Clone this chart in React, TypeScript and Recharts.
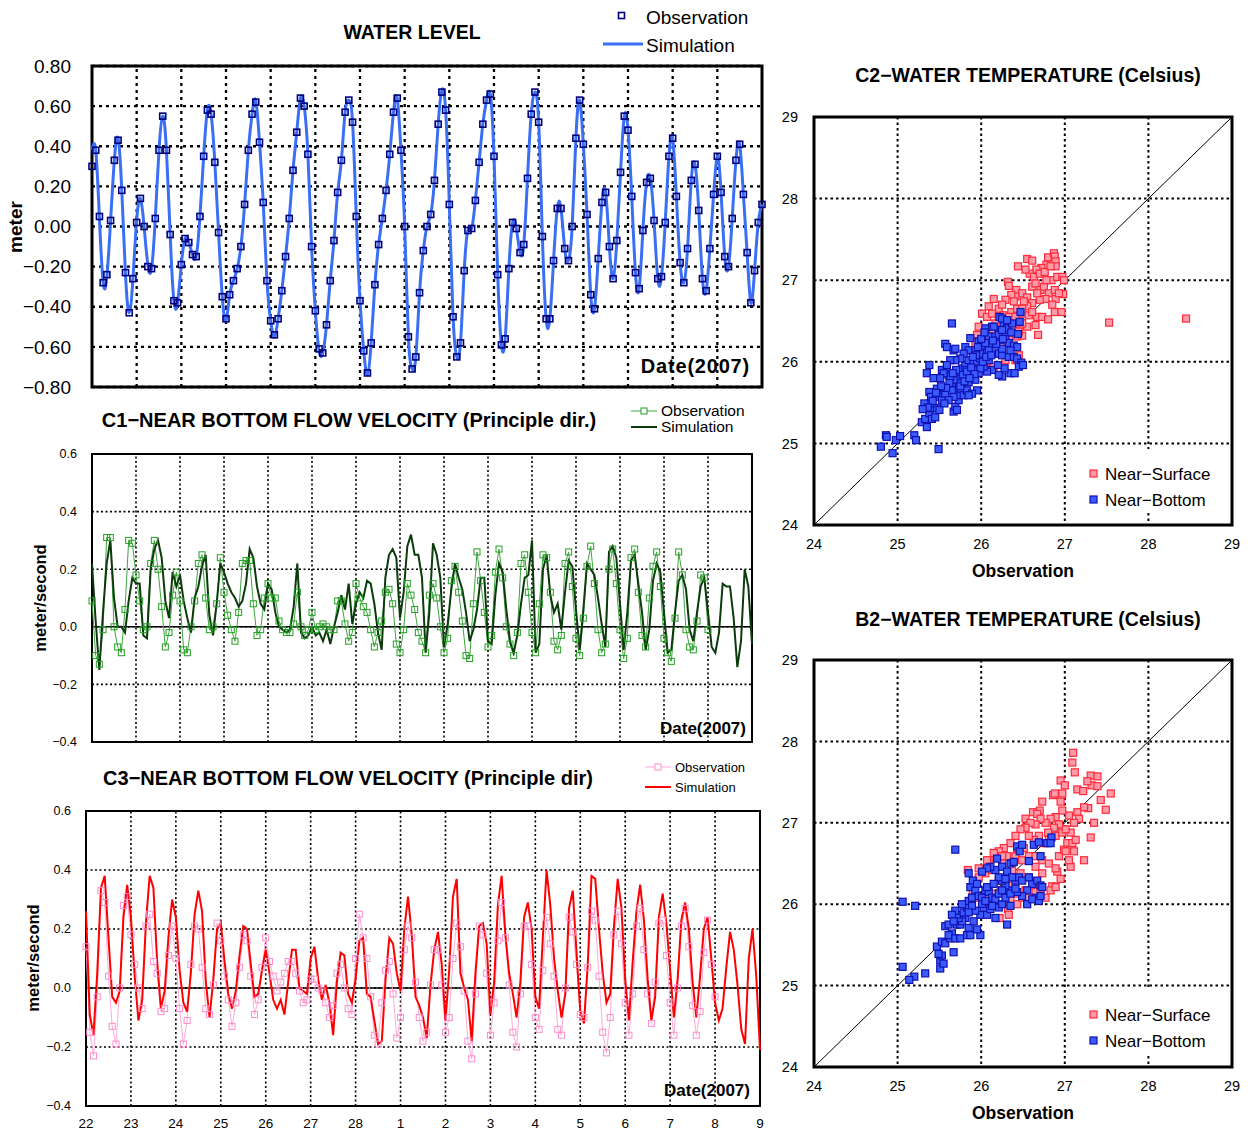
import React from 'react';
import {
  LineChart,
  Line,
  ScatterChart,
  Scatter,
  XAxis,
  YAxis,
  CartesianGrid,
  ReferenceLine,
  ReferenceArea,
} from 'recharts';

// ---- time axis (2-hour steps from 22 Feb 2007, 15 days) ----
const dayTicks = [0, 1, 2, 3, 4, 5, 6, 7, 8, 9, 10, 11, 12, 13, 14, 15];
const dayLabels = ['22', '23', '24', '25', '26', '27', '28', '1', '2', '3', '4', '5', '6', '7', '8', '9'];
const wlTicks = [-0.8, -0.6, -0.4, -0.2, 0, 0.2, 0.4, 0.6, 0.8];
const velTicks = [-0.4, -0.2, 0, 0.2, 0.4, 0.6];
const tempTicks = [24, 25, 26, 27, 28, 29];

// water level (m)
const wlSim = [
  0.38, 0.38, 0.04, -0.28, -0.25, 0.03, 0.33, 0.44, 0.18, -0.24, -0.43, -0.26,
  0.03, 0.14, 0.0, -0.19, -0.21, 0.04, 0.38, 0.55, 0.38, -0.04, -0.37, -0.38,
  -0.19, -0.06, -0.08, -0.14, -0.15, 0.05, 0.35, 0.58, 0.56, 0.32, -0.03, -0.35,
  -0.47, -0.34, -0.27, -0.21, -0.1, 0.11, 0.38, 0.56, 0.63, 0.42, 0.12, -0.27,
  -0.47, -0.55, -0.46, -0.32, -0.15, 0.04, 0.28, 0.47, 0.64, 0.6, 0.36, -0.1,
  -0.42, -0.62, -0.63, -0.49, -0.27, -0.07, 0.17, 0.33, 0.57, 0.63, 0.52, 0.05,
  -0.37, -0.62, -0.74, -0.58, -0.29, -0.09, 0.04, 0.18, 0.36, 0.57, 0.64, 0.38,
  0.0, -0.55, -0.71, -0.65, -0.33, -0.12, 0.0, 0.06, 0.23, 0.51, 0.68, 0.58,
  0.11, -0.45, -0.65, -0.58, -0.22, -0.02, -0.01, 0.13, 0.32, 0.51, 0.63, 0.66,
  0.35, -0.24, -0.59, -0.56, -0.21, 0.02, -0.01, -0.13, -0.09, 0.24, 0.56, 0.67,
  0.52, -0.05, -0.46, -0.46, -0.17, 0.09, 0.09, -0.11, -0.17, 0.0, 0.44, 0.63,
  0.41, 0.06, -0.34, -0.41, -0.16, 0.12, 0.17, -0.1, -0.26, -0.07, 0.27, 0.55,
  0.48, 0.15, -0.23, -0.31, -0.02, 0.22, 0.24, 0.03, -0.26, -0.25, 0.02, 0.35,
  0.44, 0.15, -0.18, -0.28, -0.11, 0.23, 0.31, 0.08, -0.26, -0.32, -0.11, 0.16,
  0.35, 0.17, -0.15, -0.2, 0.04, 0.33, 0.41, 0.16, -0.13, -0.38, -0.22, 0.02,
  0.11,
];
const wlObs = [
  0.3, 0.38, 0.05, -0.28, -0.24, 0.03, 0.33, 0.43, 0.18, -0.23, -0.43, -0.26,
  0.02, 0.14, 0.0, -0.2, -0.21, 0.04, 0.38, 0.55, 0.38, -0.04, -0.37, -0.38,
  -0.19, -0.06, -0.08, -0.14, -0.15, 0.05, 0.35, 0.58, 0.56, 0.32, -0.03, -0.35,
  -0.46, -0.34, -0.27, -0.21, -0.1, 0.11, 0.38, 0.56, 0.62, 0.42, 0.12, -0.27,
  -0.47, -0.54, -0.46, -0.32, -0.15, 0.04, 0.28, 0.47, 0.64, 0.6, 0.36, -0.1,
  -0.42, -0.61, -0.63, -0.49, -0.27, -0.07, 0.17, 0.33, 0.57, 0.63, 0.52, 0.05,
  -0.37, -0.62, -0.73, -0.58, -0.29, -0.09, 0.04, 0.18, 0.36, 0.57, 0.64, 0.38,
  0.0, -0.55, -0.71, -0.65, -0.33, -0.12, 0.0, 0.06, 0.23, 0.51, 0.67, 0.58,
  0.11, -0.45, -0.65, -0.58, -0.22, -0.02, -0.01, 0.13, 0.32, 0.51, 0.63, 0.66,
  0.35, -0.24, -0.59, -0.56, -0.21, 0.02, -0.01, -0.13, -0.09, 0.24, 0.56, 0.67,
  0.52, -0.05, -0.46, -0.46, -0.17, 0.09, 0.09, -0.11, -0.17, 0.0, 0.44, 0.63,
  0.41, 0.06, -0.34, -0.41, -0.16, 0.12, 0.17, -0.1, -0.26, -0.07, 0.27, 0.55,
  0.48, 0.15, -0.23, -0.31, -0.02, 0.22, 0.24, 0.03, -0.26, -0.25, 0.02, 0.35,
  0.44, 0.15, -0.18, -0.28, -0.11, 0.23, 0.31, 0.08, -0.26, -0.32, -0.11, 0.16,
  0.35, 0.17, -0.15, -0.2, 0.04, 0.33, 0.41, 0.16, -0.13, -0.38, -0.22, 0.02,
  0.11,
];

// C1 near bottom velocity (m/s)
const c1Sim = [
  0.22, 0.02, -0.15, 0.05, 0.22, 0.3, 0.1, 0.0, 0.0, -0.02, 0.09, 0.17,
  0.15, 0.15, -0.03, -0.04, 0.2, 0.27, 0.3, 0.24, 0.09, 0.03, 0.19, 0.14,
  0.18, 0.09, 0.03, -0.02, 0.1, 0.14, 0.21, 0.25, 0.04, -0.03, 0.08, 0.22,
  0.19, 0.15, 0.12, 0.1, 0.07, 0.09, 0.15, 0.27, 0.24, 0.14, 0.08, 0.06,
  0.15, 0.13, 0.05, 0.0, -0.01, -0.02, -0.01, 0.07, 0.22, -0.02, -0.04, -0.03,
  0.0, -0.03, -0.02, -0.05, -0.01, -0.06, 0.0, 0.05, 0.11, 0.06, 0.15, 0.01,
  0.08, 0.12, 0.1, 0.16, 0.15, 0.08, -0.02, -0.08, 0.17, 0.25, 0.27, 0.24,
  0.03, 0.12, 0.28, 0.32, 0.25, 0.25, 0.17, -0.09, 0.05, 0.29, 0.25, 0.17,
  -0.07, 0.01, 0.13, 0.22, 0.17, 0.13, 0.05, -0.05, -0.01, 0.06, 0.17, 0.17,
  -0.05, -0.06, 0.11, 0.22, 0.19, 0.06, -0.05, -0.09, -0.03, 0.08, 0.17, 0.18,
  0.3, -0.09, -0.06, 0.2, 0.25, 0.11, 0.05, 0.08, -0.01, 0.12, 0.23, 0.21,
  0.06, -0.08, 0.06, 0.22, 0.2, 0.18, 0.1, 0.01, -0.07, 0.26, 0.28, 0.24,
  0.08, -0.08, 0.05, 0.23, 0.25, 0.15, 0.05, -0.08, -0.01, 0.16, 0.22, 0.19,
  0.05, -0.09, -0.08, 0.05, 0.16, 0.18, 0.13, -0.01, -0.05, 0.05, 0.14, 0.17,
  0.05, -0.07, -0.09, -0.02, 0.15, 0.14, 0.14, 0.03, -0.14, -0.05, 0.2, 0.14,
  -0.06,
];
const c1Obs = [
  0.09, -0.1, -0.13, -0.01, 0.31, 0.31, 0.0, -0.07, -0.09, 0.06, 0.3, 0.29,
  0.18, 0.09, -0.01, 0.0, 0.22, 0.3, 0.2, 0.07, -0.07, -0.02, 0.11, 0.19,
  0.09, -0.08, -0.09, 0.0, 0.09, 0.22, 0.25, 0.1, -0.01, 0.0, 0.08, 0.24,
  0.12, 0.04, -0.01, -0.05, 0.05, 0.22, 0.23, 0.23, 0.08, -0.03, -0.01, 0.1,
  0.15, 0.1, 0.1, 0.02, -0.01, -0.02, -0.02, 0.01, 0.12, 0.0, -0.03, -0.01,
  0.05, -0.01, 0.0, 0.01, 0.0, -0.01, -0.01, 0.09, 0.09, 0.01, -0.05, -0.02,
  0.15, 0.1, 0.07, 0.05, -0.01, -0.07, -0.02, 0.02, 0.12, 0.13, 0.08, -0.06,
  -0.09, -0.01, 0.15, 0.11, 0.06, -0.02, -0.05, -0.09, 0.11, 0.15, 0.1, 0.0,
  -0.09, -0.04, 0.16, 0.21, 0.12, 0.02, -0.1, -0.11, 0.08, 0.26, 0.16, 0.05,
  -0.07, -0.03, 0.19, 0.27, 0.17, 0.0, -0.06, -0.1, -0.02, 0.22, 0.25, 0.12,
  -0.02, -0.09, 0.08, 0.25, 0.24, 0.12, -0.05, -0.08, -0.03, 0.22, 0.26, 0.14,
  -0.04, -0.1, 0.03, 0.21, 0.28, 0.15, -0.01, -0.09, -0.06, 0.2, 0.27, 0.15,
  -0.01, -0.11, -0.04, 0.24, 0.27, 0.12, -0.03, -0.07, 0.1, 0.21, 0.26, 0.14,
  -0.04, -0.09, -0.12, 0.03, 0.26, 0.18, -0.01, -0.07, -0.08, 0.02, 0.18, 0.17,
  -0.01,
];

// C3 near bottom velocity (m/s)
const c3Sim = [
  0.26, -0.09, -0.16, 0.05, 0.34, 0.38, 0.17, -0.03, -0.05, -0.01, 0.24, 0.35,
  0.24, 0.04, -0.11, -0.04, 0.22, 0.38, 0.34, 0.09, -0.07, -0.01, 0.17, 0.3,
  0.24, 0.06, -0.05, -0.08, 0.05, 0.25, 0.33, 0.26, 0.02, -0.1, 0.03, 0.2,
  0.22, 0.09, -0.02, -0.07, -0.01, 0.11, 0.21, 0.2, 0.08, -0.03, -0.02, 0.06,
  0.13, 0.05, -0.04, -0.07, -0.04, -0.09, 0.02, 0.13, 0.13, 0.0, -0.01, -0.02,
  0.1, 0.14, 0.03, -0.04, 0.01, -0.05, -0.16, 0.02, 0.12, 0.11, -0.02, -0.05,
  0.03, 0.16, 0.17, -0.02, -0.03, -0.11, -0.19, -0.18, 0.03, 0.17, 0.15, 0.05,
  -0.01, 0.2, 0.31, 0.18, -0.03, -0.06, -0.1, -0.17, 0.01, 0.13, 0.19, 0.08,
  -0.11, 0.06, 0.31, 0.37, 0.05, 0.0, -0.04, -0.18, 0.05, 0.21, 0.22, 0.15,
  -0.09, 0.02, 0.28, 0.38, 0.18, 0.05, -0.02, -0.1, 0.02, 0.24, 0.29, 0.2,
  -0.03, -0.07, 0.17, 0.4, 0.28, 0.1, -0.01, -0.1, -0.02, 0.27, 0.33, 0.12,
  -0.08, -0.12, 0.08, 0.38, 0.37, 0.2, 0.05, -0.05, -0.02, 0.21, 0.37, 0.27,
  0.03, -0.11, 0.09, 0.26, 0.35, 0.23, 0.03, -0.11, -0.03, 0.24, 0.32, 0.22,
  0.06, -0.1, 0.03, 0.23, 0.29, 0.2, 0.02, -0.1, 0.04, 0.2, 0.24, 0.1,
  -0.05, -0.11, -0.07, 0.07, 0.19, 0.13, 0.01, -0.14, -0.19, 0.1, 0.2, 0.04,
  -0.21,
];
const c3Obs = [
  0.14, -0.15, -0.23, -0.03, 0.33, 0.29, 0.04, -0.13, -0.19, 0.0, 0.28, 0.31,
  0.18, 0.08, 0.0, -0.07, 0.21, 0.25, 0.09, 0.05, -0.08, -0.07, 0.11, 0.21,
  0.1, -0.07, -0.19, -0.11, 0.08, 0.21, 0.2, 0.07, -0.07, -0.09, 0.01, 0.22,
  0.16, 0.04, -0.04, -0.13, -0.05, 0.07, 0.18, 0.16, 0.04, -0.09, -0.04, 0.07,
  0.17, 0.09, 0.04, -0.01, 0.02, 0.05, 0.09, 0.09, 0.05, -0.01, -0.05, -0.04,
  0.03, 0.03, 0.0, -0.01, -0.05, -0.1, -0.06, 0.05, 0.08, 0.0, -0.07, -0.09,
  0.1, 0.25, 0.17, 0.1, -0.03, -0.16, -0.19, -0.05, 0.06, 0.09, -0.02, -0.17,
  -0.1, 0.13, 0.21, 0.17, 0.02, -0.1, -0.18, -0.15, 0.01, 0.13, 0.13, 0.01,
  -0.15, -0.1, 0.1, 0.22, 0.14, -0.01, -0.18, -0.24, -0.02, 0.21, 0.18, 0.05,
  -0.16, -0.05, 0.16, 0.29, 0.17, 0.01, -0.15, -0.2, -0.02, 0.21, 0.21, 0.08,
  -0.1, -0.14, 0.06, 0.24, 0.15, 0.04, -0.14, -0.16, 0.0, 0.24, 0.19, 0.08,
  -0.09, -0.1, 0.07, 0.26, 0.23, 0.04, -0.15, -0.22, -0.1, 0.18, 0.26, 0.15,
  -0.05, -0.16, -0.02, 0.21, 0.27, 0.13, -0.02, -0.12, 0.02, 0.22, 0.23, 0.11,
  -0.05, -0.16, 0.0, 0.21, 0.27, 0.14, -0.06, -0.16, -0.08, 0.12, 0.23, 0.08,
  -0.03,
];

// C2 water temperature: [observation, simulation]
const c2Surface = [
  [26.55, 27.26], [26.61, 27.24], [26.44, 27.17], [26.8, 27.28], [26.87, 27.33], [26.88, 27.29],
  [26.89, 27.23], [26.89, 27.17], [26.78, 27.19], [26.72, 27.15], [26.66, 27.13], [26.58, 27.08],
  [26.53, 27.13], [26.63, 27.04], [26.7, 27.08], [26.76, 27.1], [26.83, 27.17], [26.84, 27.0],
  [26.91, 27.04], [26.97, 27.04], [26.32, 26.98], [26.33, 26.93], [26.42, 26.88], [26.49, 26.84],
  [26.55, 26.79], [26.61, 26.92], [26.65, 26.96], [26.71, 26.88], [26.75, 26.92], [26.81, 26.84],
  [26.88, 26.88], [26.98, 26.83], [26.89, 26.77], [26.77, 26.77], [26.7, 26.76], [26.61, 26.72],
  [26.55, 26.68], [26.41, 26.8], [26.36, 26.82], [26.29, 26.76], [26.21, 26.65], [26.15, 26.77],
  [26.09, 26.68], [26.01, 26.59], [26.07, 26.55], [26.13, 26.59], [26.21, 26.55], [26.27, 26.57],
  [26.36, 26.61], [26.43, 26.65], [26.49, 26.59], [26.57, 26.57], [26.67, 26.55], [26.73, 26.55],
  [26.8, 26.52], [26.88, 26.61], [26.96, 26.61], [26.65, 26.45], [26.68, 26.33], [26.55, 26.43],
  [26.49, 26.47], [26.41, 26.47], [26.33, 26.43], [26.27, 26.43], [26.21, 26.37], [26.13, 26.39],
  [26.05, 26.35], [25.97, 26.43], [25.95, 26.33], [26.01, 26.27], [26.09, 26.31], [26.17, 26.25],
  [26.25, 26.18], [26.33, 26.27], [26.43, 26.31], [26.49, 26.32], [25.93, 26.23], [25.89, 26.14],
  [25.97, 26.1], [26.05, 26.06], [26.11, 26.1], [26.21, 26.1], [26.29, 26.02], [26.41, 26.02],
  [26.45, 26.08], [25.98, 25.96], [26.06, 26.0], [26.15, 25.94], [26.25, 26.7], [26.51, 26.74],
  [26.39, 26.74], [26.17, 26.47], [26.33, 26.55], [26.41, 26.55], [26.49, 26.65], [26.85, 26.7],
  [26.93, 26.84], [26.99, 27.0], [26.78, 27.0], [26.67, 26.84], [26.61, 26.61], [26.45, 26.37],
  [26.23, 26.2], [26.09, 26.18], [27.53, 26.48], [28.45, 26.53],
];
const c2Bottom = [
  [24.8, 24.96], [24.86, 25.1], [24.87, 25.08], [24.94, 24.88], [24.98, 25.04], [25.03, 25.09],
  [25.2, 25.1], [25.22, 25.04], [25.49, 24.93], [25.29, 25.26], [25.33, 25.3], [25.35, 25.2],
  [25.38, 25.37], [25.4, 25.43], [25.41, 25.3], [25.45, 25.32], [25.47, 25.43], [25.5, 25.41],
  [25.39, 25.49], [25.38, 25.63], [25.4, 25.57], [25.32, 25.49], [25.35, 25.86], [25.38, 25.96],
  [25.43, 25.8], [25.47, 25.67], [25.49, 25.57], [25.53, 25.53], [25.57, 25.61], [25.65, 26.47],
  [25.57, 26.22], [25.59, 26.18], [25.67, 26.14], [25.69, 26.16], [25.81, 26.18], [25.87, 26.29],
  [25.53, 25.9], [25.59, 25.92], [25.61, 25.84], [25.65, 25.71], [25.69, 25.65], [25.67, 25.39],
  [25.69, 25.45], [25.71, 25.41], [25.73, 25.53], [25.73, 25.59], [25.76, 25.67], [25.79, 25.59],
  [25.83, 25.65], [25.85, 25.75], [25.89, 25.82], [25.93, 25.78], [25.97, 25.86], [25.95, 25.65],
  [25.89, 25.61], [25.85, 25.59], [25.75, 25.75], [25.71, 25.82], [25.67, 25.78], [25.63, 25.82],
  [25.73, 25.88], [25.77, 25.92], [25.81, 25.96], [25.85, 26.02], [25.91, 25.98], [25.95, 26.0],
  [25.99, 26.04], [26.01, 26.1], [26.07, 26.14], [26.11, 26.2], [26.17, 26.14], [26.21, 26.1],
  [26.25, 26.08], [26.33, 26.06], [26.39, 26.06], [26.43, 26.04], [26.48, 25.99], [26.45, 25.94],
  [26.35, 25.86], [26.25, 25.82], [26.21, 25.84], [26.13, 25.9], [26.07, 25.88], [26.03, 25.94],
  [26.09, 26.02], [26.09, 26.31], [26.05, 26.41], [26.13, 26.43], [26.21, 26.39], [26.27, 26.45],
  [26.31, 26.41], [26.37, 26.47], [26.46, 26.49], [26.47, 26.61], [26.22, 26.55], [26.25, 26.53],
  [26.31, 26.51], [26.17, 26.31], [26.23, 26.27], [26.29, 26.31], [26.33, 26.23], [26.39, 26.2],
  [26.43, 26.18], [26.35, 26.14], [25.85, 26.14], [25.79, 26.1], [25.75, 26.04], [25.69, 26.02],
  [25.63, 26.02], [25.59, 25.96], [25.55, 25.86], [25.51, 25.8], [25.65, 25.65], [25.67, 25.57],
  [25.61, 25.53], [25.56, 25.49], [25.81, 25.9], [25.87, 25.86], [25.91, 25.9], [25.99, 25.92],
  [25.93, 26.14], [25.97, 26.25], [26.01, 26.2], [26.05, 26.23], [26.09, 26.14], [26.25, 26.16],
  [26.15, 26.43], [26.21, 26.33], [26.25, 26.39], [25.78, 25.84], [25.83, 25.88], [25.88, 25.93],
  [25.92, 25.85], [25.75, 25.7], [25.8, 25.76], [25.86, 25.8], [25.7, 25.9], [25.66, 25.86],
  [25.62, 25.74], [25.58, 25.68], [25.94, 26.08], [26.02, 26.0], [26.06, 26.06], [26.12, 26.08],
  [25.9, 26.06], [25.96, 26.18], [26.0, 26.28], [26.04, 26.36], [26.18, 26.22], [26.26, 26.28],
  [26.14, 26.26], [26.36, 26.36], [26.44, 26.34], [26.5, 25.96], [26.4, 25.86], [26.28, 25.92],
  [26.2, 25.96], [25.52, 25.7], [25.46, 25.62], [25.42, 25.52], [25.36, 25.44], [25.3, 25.42],
];

// B2 water temperature: [observation, simulation]
const b2Surface = [
  [27.1, 27.86], [27.09, 27.74], [27.12, 27.62], [27.31, 27.58], [27.39, 27.57], [27.32, 27.46],
  [27.27, 27.51], [27.39, 27.45], [26.95, 27.52], [27.0, 27.46], [26.97, 27.36], [26.86, 27.34],
  [26.88, 27.36], [26.73, 27.26], [26.7, 27.15], [26.62, 27.13], [26.67, 27.11], [26.53, 27.05],
  [27.15, 27.41], [27.22, 27.39], [27.28, 27.18], [27.23, 27.19], [27.15, 27.13], [27.43, 27.28],
  [27.49, 27.16], [27.55, 27.36], [27.35, 27.0], [27.31, 26.82], [27.23, 26.54], [27.07, 26.46],
  [26.91, 26.4], [26.85, 26.22], [27.17, 27.05], [27.11, 27.0], [27.05, 27.09], [26.97, 27.15],
  [26.95, 27.26], [26.89, 27.07], [26.83, 27.05], [26.77, 27.0], [26.71, 27.05], [26.65, 26.98],
  [26.59, 27.0], [26.53, 26.94], [26.47, 26.92], [26.41, 26.84], [26.35, 26.75], [26.27, 26.69],
  [26.21, 26.65], [26.15, 26.63], [26.09, 26.54], [26.41, 26.59], [26.49, 26.54], [26.57, 26.59],
  [26.65, 26.59], [26.73, 26.54], [26.81, 26.5], [26.75, 26.75], [26.81, 26.79], [26.89, 26.84],
  [26.97, 26.88], [27.03, 26.75], [27.09, 26.75], [27.11, 26.65], [27.07, 26.88], [27.13, 26.79],
  [27.01, 26.92], [26.93, 26.98], [26.87, 26.94], [26.8, 26.88], [26.69, 26.84], [26.63, 26.79],
  [26.57, 26.84], [26.51, 26.69], [26.43, 26.69], [26.31, 26.59], [26.25, 26.5], [26.37, 26.42],
  [26.47, 26.38], [26.57, 26.33], [26.65, 26.46], [26.73, 26.38], [26.61, 26.23], [26.53, 26.17],
  [26.41, 26.13], [26.35, 26.06], [26.32, 25.94], [26.33, 25.87], [26.25, 26.17], [26.17, 26.13],
  [26.09, 26.08], [26.01, 26.08], [25.95, 26.08], [25.9, 26.17], [25.84, 26.42], [25.97, 26.44],
  [26.05, 26.38], [26.13, 26.42], [26.21, 26.29], [26.29, 26.25], [26.37, 26.23], [26.43, 26.0],
  [26.49, 26.08], [26.57, 26.08], [26.65, 26.15], [26.71, 26.19], [26.22, 25.83], [25.79, 25.83],
  [25.73, 25.85], [25.97, 26.33], [26.07, 26.54], [26.25, 26.59], [26.77, 26.08], [26.83, 26.17],
  [26.89, 26.21], [26.95, 26.31], [26.89, 26.44], [26.93, 26.59], [26.99, 26.67], [27.05, 26.54],
  [27.01, 26.65],
];
const b2Bottom = [
  [25.69, 26.67], [25.06, 26.03], [25.21, 25.98], [25.06, 25.23], [25.2, 25.11], [25.14, 25.07],
  [25.33, 25.15], [25.51, 25.21], [25.51, 25.31], [25.53, 25.37], [25.55, 25.27], [25.49, 25.39],
  [25.47, 25.48], [25.53, 25.54], [25.57, 25.52], [25.63, 25.58], [25.65, 25.64], [25.57, 25.73],
  [25.67, 25.41], [25.61, 25.62], [25.69, 25.58], [25.71, 25.75], [25.75, 25.75], [25.75, 25.58],
  [25.83, 25.62], [25.87, 25.62], [25.99, 25.62], [25.95, 25.69], [25.85, 25.71], [25.81, 25.83],
  [25.77, 25.79], [25.73, 25.83], [25.71, 25.87], [25.79, 25.9], [25.83, 25.96], [25.85, 26.04],
  [25.89, 26.08], [25.87, 26.21], [25.85, 26.38], [25.9, 26.29], [25.93, 26.17], [25.97, 26.1],
  [26.01, 26.08], [26.05, 26.17], [26.09, 26.15], [26.13, 26.08], [26.17, 26.06], [26.17, 25.83],
  [26.21, 25.96], [26.25, 26.0], [26.31, 25.75], [26.35, 25.98], [26.33, 26.17], [26.29, 26.23],
  [26.25, 26.29], [26.21, 26.33], [26.17, 26.42], [26.11, 26.46], [26.07, 26.44], [26.01, 26.4],
  [26.19, 26.56], [26.25, 26.46], [26.31, 26.4], [26.35, 26.5], [26.39, 26.52], [26.43, 26.71],
  [26.46, 26.65], [26.49, 26.73], [26.57, 26.53], [26.61, 26.25], [26.63, 26.73], [26.69, 26.76],
  [26.71, 26.59], [26.79, 26.75], [26.84, 26.82], [26.83, 26.75], [26.65, 26.08], [26.55, 26.0],
  [26.61, 26.06], [26.69, 26.04], [26.71, 26.1], [26.55, 26.17], [26.49, 26.1], [26.43, 26.15],
  [26.41, 26.29], [26.45, 26.33], [26.49, 26.29], [26.37, 26.33], [26.29, 26.31], [26.57, 26.33],
  [26.67, 26.29], [26.71, 26.23], [26.73, 26.21], [26.01, 26.0], [26.03, 25.92], [25.99, 25.87],
  [25.93, 25.92], [25.89, 25.98], [25.91, 25.79], [26.07, 25.87], [26.11, 25.94], [26.13, 25.98],
  [26.21, 26.13], [26.25, 26.17], [25.95, 26.25], [26.07, 26.21], [26.15, 26.25], [26.29, 26.08],
  [26.35, 26.13], [26.41, 26.19], [26.05, 26.04], [25.85, 25.9], [25.77, 26.0], [25.69, 25.92],
  [25.65, 25.87], [25.61, 25.75], [25.67, 25.79],
];

const SANS = '"Liberation Sans", Arial, Helvetica, sans-serif';
const innerDays = dayTicks.slice(1, -1);

const buildRows = (sim: number[], obs: number[]) =>
  sim.map((v, i) => ({ t: i / 12, sim: v, obs: i < obs.length ? obs[i] : null }));
const toPoints = (pairs: number[][]) => pairs.map(([x, y]) => ({ x, y }));

const wlRows = buildRows(wlSim, wlObs);
const c1Rows = buildRows(c1Sim, c1Obs);
const c3Rows = buildRows(c3Sim, c3Obs);

const signed = (v: number, d: number) => (v < 0 ? '\u2212' : '') + Math.abs(v).toFixed(d);

const squareDot = (size: number, stroke: string, sw: number) => (props: any) => {
  const { cx, cy, index, value } = props;
  if (value == null || cx == null || cy == null || isNaN(cy)) return <g key={`e-${index}`} />;
  return (
    <rect
      key={`d-${index}`}
      x={cx - size / 2}
      y={cy - size / 2}
      width={size}
      height={size}
      fill="none"
      stroke={stroke}
      strokeWidth={sw}
    />
  );
};

const squareShape = (stroke: string, fill: string) => (p: any) => (
  <rect x={p.cx - 3.5} y={p.cy - 3.5} width={7} height={7} fill={fill} stroke={stroke} strokeWidth={1.2} />
);

interface TxtProps {
  x: number;
  y: number;
  size: number;
  bold?: boolean;
  anchor?: 'start' | 'middle' | 'end';
  rotate?: number;
  spacing?: number;
  children: React.ReactNode;
}

const Txt = ({ x, y, size, bold, anchor = 'start', rotate, spacing, children }: TxtProps) => {
  const tx = anchor === 'middle' ? '-50%' : anchor === 'end' ? '-100%' : '0';
  return (
    <div
      style={{
        position: 'absolute',
        left: x,
        top: y,
        transform: `translate(${tx}, -50%)${rotate ? ` rotate(${rotate}deg)` : ''}`,
        fontSize: size,
        fontWeight: bold ? 700 : 400,
        fontFamily: SANS,
        lineHeight: 1,
        whiteSpace: 'nowrap',
        letterSpacing: spacing,
        color: '#000',
      }}
    >
      {children}
    </div>
  );
};

const Swatch = ({ x, y, w, h, children }: any) => (
  <svg style={{ position: 'absolute', left: x, top: y }} width={w} height={h}>
    {children}
  </svg>
);

const Abs = ({ x, y, children }: any) => (
  <div style={{ position: 'absolute', left: x, top: y }}>{children}</div>
);

const TimeChart = ({ rows, width, height, margin, yTicks, yDomain, yWidth, yFmt, fontSize, tickMargin, grid, border, xLabels, children }: any) => (
  <LineChart width={width} height={height} data={rows} margin={margin} style={{ overflow: 'visible' }}>
    <CartesianGrid vertical={false} stroke="#000" strokeWidth={grid.w} strokeDasharray={grid.dash} />
    <XAxis
      type="number"
      dataKey="t"
      domain={[0, 15]}
      ticks={dayTicks}
      interval={0}
      axisLine={false}
      tickLine={false}
      tickSize={0}
      height={xLabels ? 24 : 1}
      tickMargin={12}
      tick={xLabels ? { fontSize: 13.5, fill: '#000', fontFamily: SANS } : false}
      tickFormatter={(v: number) => dayLabels[v]}
    />
    <YAxis
      type="number"
      domain={yDomain}
      ticks={yTicks}
      interval={0}
      width={yWidth}
      axisLine={false}
      tickLine={false}
      tickSize={0}
      tickMargin={tickMargin}
      allowDataOverflow
      tick={{ fontSize, fill: '#000', fontFamily: SANS }}
      tickFormatter={yFmt}
    />
    {innerDays.map((d) => (
      <ReferenceLine key={`v-${d}`} x={d} stroke="#000" strokeWidth={grid.w} strokeDasharray={grid.dash} />
    ))}
    {children}
    <ReferenceArea x1={0} x2={15} y1={yDomain[0]} y2={yDomain[1]} fill="none" stroke="#000" strokeWidth={border} ifOverflow="visible" />
  </LineChart>
);

const TempChart = ({ surface, bottom, margin }: any) => (
  <ScatterChart width={478} height={470} margin={margin}>
    <CartesianGrid stroke="#000" strokeWidth={2} strokeDasharray="2.5 3" />
    <XAxis
      type="number"
      dataKey="x"
      domain={[24, 29]}
      ticks={tempTicks}
      interval={0}
      height={30}
      axisLine={false}
      tickLine={false}
      tickSize={0}
      tickMargin={14}
      tick={{ fontSize: 14.5, fill: '#000', fontFamily: SANS }}
    />
    <YAxis
      type="number"
      dataKey="y"
      domain={[24, 29]}
      ticks={tempTicks}
      interval={0}
      width={40}
      axisLine={false}
      tickLine={false}
      tickSize={0}
      tickMargin={16}
      tick={{ fontSize: 14.5, fill: '#000', fontFamily: SANS }}
    />
    <ReferenceLine segment={[{ x: 24, y: 24 }, { x: 29, y: 29 }]} stroke="#000" strokeWidth={1} ifOverflow="visible" />
    <Scatter data={toPoints(surface)} shape={squareShape('#ff2a3a', '#ff9aa8')} isAnimationActive={false} />
    <Scatter data={toPoints(bottom)} shape={squareShape('#1010b0', '#3a5cff')} isAnimationActive={false} />
    <ReferenceArea x1={24} x2={29} y1={24} y2={29} fill="none" stroke="#000" strokeWidth={3} ifOverflow="visible" />
  </ScatterChart>
);

const TempLegend = ({ top }: { top: number }) => (
  <>
    <div style={{ position: 'absolute', left: 1080, top, width: 148, height: 64, background: '#fff' }} />
    <Swatch x={1089} y={top + 20} w={9} h={9}>
      <rect x={1} y={1} width={7} height={7} fill="#ff9aa8" stroke="#ff2a3a" strokeWidth={1.2} />
    </Swatch>
    <Txt x={1105} y={top + 25} size={17}>Near{'\u2212'}Surface</Txt>
    <Swatch x={1089} y={top + 46} w={9} h={9}>
      <rect x={1} y={1} width={7} height={7} fill="#3a5cff" stroke="#1010b0" strokeWidth={1.2} />
    </Swatch>
    <Txt x={1105} y={top + 51} size={17}>Near{'\u2212'}Bottom</Txt>
  </>
);

export default function App() {
  return (
    <div style={{ position: 'fixed', left: 0, top: 0, width: 1248, height: 1131, background: '#fff', overflow: 'hidden' }}>
      {/* WATER LEVEL */}
      <Abs x={0} y={0}>
        <TimeChart
          rows={wlRows}
          width={780}
          height={400}
          margin={{ top: 66, right: 18, bottom: 12, left: 12 }}
          yTicks={wlTicks}
          yDomain={[-0.8, 0.8]}
          yWidth={80}
          yFmt={(v: number) => signed(v, 2)}
          fontSize={19}
          tickMargin={21}
          grid={{ w: 2.3, dash: '3 4' }}
          border={3}
        >
          <Line type="natural" dataKey="sim" stroke="#3a6ff5" strokeWidth={3} dot={false} activeDot={false} isAnimationActive={false} />
          <Line type="linear" dataKey="obs" stroke="none" dot={squareDot(6, '#00007a', 1.6)} activeDot={false} isAnimationActive={false} />
        </TimeChart>
      </Abs>
      <Txt x={412} y={33} size={19.5} bold anchor="middle">WATER LEVEL</Txt>
      <Txt x={15} y={227} size={19} bold anchor="middle" rotate={-90}>meter</Txt>
      <Txt x={750} y={366} size={20} bold anchor="end" spacing={0.8}>Date(2007)</Txt>
      <Swatch x={617} y={11} w={10} h={10}>
        <rect x={1.5} y={1.5} width={6} height={6} fill="none" stroke="#00007a" strokeWidth={1.6} />
      </Swatch>
      <Txt x={646} y={17} size={19}>Observation</Txt>
      <Swatch x={603} y={41} w={40} h={6}>
        <line x1={0} y1={3} x2={40} y2={3} stroke="#3a6ff5" strokeWidth={3} />
      </Swatch>
      <Txt x={646} y={45} size={19}>Simulation</Txt>

      {/* C1 */}
      <Abs x={0} y={440}>
        <TimeChart
          rows={c1Rows}
          width={770}
          height={320}
          margin={{ top: 14, right: 18, bottom: 17, left: 32 }}
          yTicks={velTicks}
          yDomain={[-0.4, 0.6]}
          yWidth={60}
          yFmt={(v: number) => signed(v, 1)}
          fontSize={12.5}
          tickMargin={15}
          grid={{ w: 1.6, dash: '2 2.5' }}
          border={2}
        >
          <ReferenceLine y={0} stroke="#000" strokeWidth={1.5} />
          <Line type="linear" dataKey="obs" stroke="#3fa53f" strokeWidth={1} dot={squareDot(6, '#22a022', 1)} activeDot={false} isAnimationActive={false} connectNulls={false} />
          <Line type="linear" dataKey="sim" stroke="#0b3a0b" strokeWidth={2} dot={false} activeDot={false} isAnimationActive={false} />
        </TimeChart>
      </Abs>
      <Txt x={349} y={420} size={20} bold anchor="middle">C1{'\u2212'}NEAR BOTTOM FLOW VELOCITY (Principle dir.)</Txt>
      <Txt x={40} y={598} size={16.5} bold anchor="middle" rotate={-90}>meter/second</Txt>
      <Txt x={746} y={728} size={17} bold anchor="end">Date(2007)</Txt>
      <Swatch x={631} y={405} w={27} h={12}>
        <line x1={0} y1={6} x2={26} y2={6} stroke="#3fa53f" strokeWidth={1} />
        <rect x={10} y={3} width={6} height={6} fill="#fff" stroke="#22a022" strokeWidth={1} />
      </Swatch>
      <Txt x={661} y={411} size={15.5}>Observation</Txt>
      <Swatch x={631} y={424} w={27} h={6}>
        <line x1={0} y1={3} x2={26} y2={3} stroke="#0b3a0b" strokeWidth={2} />
      </Swatch>
      <Txt x={661} y={427} size={15.5}>Simulation</Txt>

      {/* C3 */}
      <Abs x={0} y={795}>
        <TimeChart
          rows={c3Rows}
          width={780}
          height={345}
          margin={{ top: 16, right: 20, bottom: 10, left: 26 }}
          yTicks={velTicks}
          yDomain={[-0.4, 0.6]}
          yWidth={60}
          yFmt={(v: number) => signed(v, 1)}
          fontSize={12.5}
          tickMargin={15}
          grid={{ w: 1.6, dash: '2 2.5' }}
          border={2}
          xLabels
        >
          <ReferenceLine y={0} stroke="#000" strokeWidth={1.5} />
          <Line type="linear" dataKey="obs" stroke="#ffaad6" strokeWidth={1} dot={squareDot(6, '#ff8ccc', 1)} activeDot={false} isAnimationActive={false} connectNulls={false} />
          <Line type="linear" dataKey="sim" stroke="#ff0000" strokeWidth={2} dot={false} activeDot={false} isAnimationActive={false} />
        </TimeChart>
      </Abs>
      <Txt x={348} y={778} size={20} bold anchor="middle">C3{'\u2212'}NEAR BOTTOM FLOW VELOCITY (Principle dir)</Txt>
      <Txt x={33} y={958} size={16.5} bold anchor="middle" rotate={-90}>meter/second</Txt>
      <Txt x={750} y={1090} size={17} bold anchor="end">Date(2007)</Txt>
      <Swatch x={645} y={761} w={27} h={12}>
        <line x1={0} y1={6} x2={26} y2={6} stroke="#ffaad6" strokeWidth={1} />
        <rect x={10} y={3} width={6} height={6} fill="#fff" stroke="#ff8ccc" strokeWidth={1} />
      </Swatch>
      <Txt x={675} y={767} size={13}>Observation</Txt>
      <Swatch x={645} y={784} w={27} h={6}>
        <line x1={0} y1={3} x2={26} y2={3} stroke="#ff0000" strokeWidth={2} />
      </Swatch>
      <Txt x={675} y={787} size={13}>Simulation</Txt>

      {/* C2 temperature */}
      <Abs x={770} y={90}>
        <TempChart surface={c2Surface} bottom={c2Bottom} margin={{ top: 27, right: 16, bottom: 5, left: 4 }} />
      </Abs>
      <TempLegend top={449} />
      <Txt x={1028} y={76} size={19.5} bold anchor="middle">C2{'\u2212'}WATER TEMPERATURE (Celsius)</Txt>
      <Txt x={1023} y={572} size={17.5} bold anchor="middle">Observation</Txt>

      {/* B2 temperature */}
      <Abs x={770} y={635}>
        <TempChart surface={b2Surface} bottom={b2Bottom} margin={{ top: 25, right: 16, bottom: 8, left: 4 }} />
      </Abs>
      <TempLegend top={990} />
      <Txt x={1028} y={620} size={19.5} bold anchor="middle">B2{'\u2212'}WATER TEMPERATURE (Celsius)</Txt>
      <Txt x={1023} y={1114} size={17.5} bold anchor="middle">Observation</Txt>
    </div>
  );
}
